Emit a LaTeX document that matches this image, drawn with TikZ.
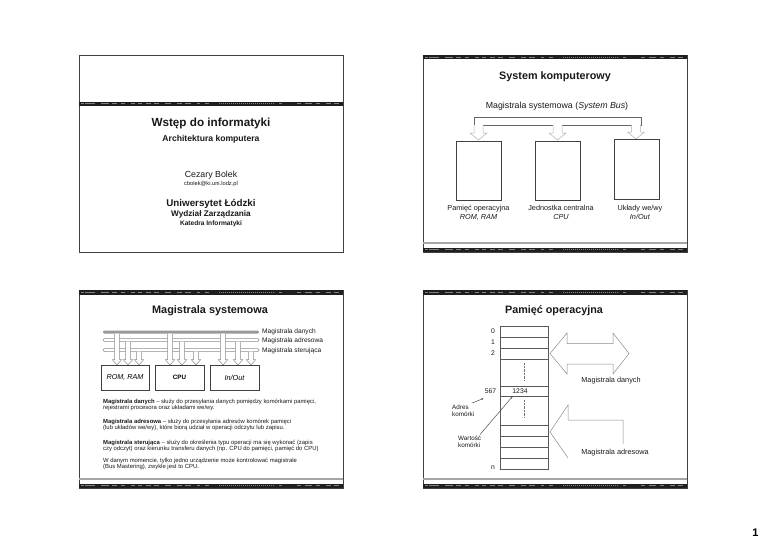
\documentclass[tikz,border=0pt]{standalone}
\usepackage{fontspec}
\setmainfont{Liberation Sans}
\usetikzlibrary{arrows.meta}
\newcommand{\myfs}[1]{\fontsize{#1}{#1}\selectfont}
\tikzset{
  slideframe/.style={draw=black!75, line width=0.9pt, fill=white},
  hollowarrow/.style={draw=black!45, fill=white, line width=0.5pt, line join=miter},
  paleArrow/.style={draw=black!30, fill=white, line width=0.5pt},
  plainbox/.style={draw=black!75, line width=0.7pt},
  txt/.style={inner sep=0pt, text=black!90},
  memline/.style={draw=black!65, line width=0.6pt},
  busbar/.style={draw=black!45, line width=0.5pt, rounded corners=1.2pt},
  pointer/.style={draw=black!70, line width=0.5pt, -{Stealth[length=2.2pt,width=1.8pt]}},
}
% band with pale marks
\newcommand{\myband}[2]{%
  \fill[black!88] (#1,#2) rectangle ++(264,4.5);
  \foreach \a/\b in {2/5,6/16,22/30,33/38,42/46,52/56,59/63,67/72,75/80,86/92,98/103,106/112,118/121,126/130,200/203,218/222,226/233,237/241,247/252,255/260}
    \draw[black!50, line width=1pt] ({#1+\a},{#2+2.25}) -- ({#1+\b},{#2+2.25});
  \draw[black!50, line width=1.2pt, dash pattern=on 1.2pt off 0.8pt] ({#1+140},{#2+2.25}) -- ({#1+196},{#2+2.25});
}
\newcommand{\bottomband}[2]{%
  \draw[black!35, line width=1.3pt] (#1,{#2-4.5}) -- ++(264,0);
  \myband{#1}{#2}
}
% down arrow: x, y top, y tip, shaft half, head half, head length, style
\newcommand{\mydownarrow}[7]{%
  \draw[#7] ({#1-#4},#2) -- ({#1-#4},{#3-#6}) -- ({#1-#5},{#3-#6}) -- (#1,#3)
    -- ({#1+#5},{#3-#6}) -- ({#1+#4},{#3-#6}) -- ({#1+#4},#2);
}
\begin{document}
\begin{tikzpicture}[x=1pt,y=-1pt]
\useasboundingbox[fill=white] (0,0) rectangle (768,543);

% ---------- frames ----------
\draw[slideframe] (79,55) rectangle (343,252);
\draw[slideframe] (423,55) rectangle (687,252);
\draw[slideframe] (79,290) rectangle (343,488);
\draw[slideframe] (423,290) rectangle (687,488);

% ---------- bands ----------
\myband{79}{101.5}
\myband{423}{55}
\bottomband{423}{247.5}
\myband{79}{290}
\bottomband{79}{483.5}
\myband{423}{290}
\bottomband{423}{483.5}

% ---------- slide 1 ----------
\node[txt, font=\bfseries\myfs{11.7}] (s1title) at (211,123) {Wstęp do informatyki};
\node[txt, font=\bfseries\myfs{8.6}] (s1sub) at (211,139) {Architektura komputera};
\node[txt, font=\myfs{8.8}] (s1author) at (211,175) {Cezary Bolek};
\node[txt, font=\myfs{5.7}] (s1mail) at (211,184.5) {cbolek@ki.uni.lodz.pl};
\node[txt, font=\bfseries\myfs{9.8}] (s1uni) at (211,204) {Uniwersytet Łódzki};
\node[txt, font=\bfseries\myfs{8.2}] (s1dep) at (211,214) {Wydział Zarządzania};
\node[txt, font=\bfseries\myfs{6.6}] (s1kat) at (211,224) {Katedra Informatyki};

% ---------- slide 2 ----------
\node[txt, font=\bfseries\myfs{10.8}] (s2title) at (555,77) {System komputerowy};
\node[txt, font=\myfs{8.8}] (s2bus) at (557,106) {Magistrala systemowa (\textit{System Bus})};
\draw[draw=black!60, line width=0.6pt] (474,117) rectangle (641,125);
\mydownarrow{478.5}{125}{140}{4.5}{8.5}{7}{paleArrow}
\mydownarrow{557.5}{125}{140}{4.5}{8.5}{7}{paleArrow}
\mydownarrow{636}{125}{139}{4.5}{8.5}{7}{paleArrow}
\node[plainbox, minimum width=45pt, minimum height=59pt, inner sep=0pt] (mem) at (478.5,170.5) {};
\node[plainbox, minimum width=45pt, minimum height=59pt, inner sep=0pt] (cpu) at (557.5,170.5) {};
\node[plainbox, minimum width=45pt, minimum height=60pt, inner sep=0pt] (io) at (636.5,169.5) {};
\node[txt, font=\myfs{7.3}, align=center] (memlab) at (478.5,212.5) {Pamięć operacyjna\\[1.6pt]\textit{ROM, RAM}};
\node[txt, font=\myfs{7.3}, align=center] (cpulab) at (561,212.5) {Jednostka centralna\\[1.6pt]\textit{CPU}};
\node[txt, font=\myfs{7.3}, align=center] (iolab) at (640,212) {Układy we/wy\\[1.6pt]\textit{In/Out}};

% ---------- slide 3 ----------
\node[txt, font=\bfseries\myfs{10.9}] (s3title) at (210,311) {Magistrala systemowa};
\fill[black!40, rounded corners=1.2pt] (103,330.5) rectangle (259,333.5);
\draw[busbar] (103,338.5) rectangle (259,341.5);
\draw[busbar] (103,348.5) rectangle (259,351.5);
\node[txt, font=\myfs{6.6}, anchor=west] (ldata) at (262,332) {Magistrala danych};
\node[txt, font=\myfs{6.6}, anchor=west] (laddr) at (262,340.5) {Magistrala adresowa};
\node[txt, font=\myfs{6.6}, anchor=west] (lctrl) at (262,350.5) {Magistrala sterująca};
\foreach \x/\y in {117/333.5,128/341.5,139/351.5,170/333.5,182/341.5,196/351.5,223/333.5,238/341.5,251/351.5}
  \mydownarrow{\x}{\y}{365}{2.5}{4.8}{5.5}{hollowarrow};
\node[plainbox, minimum width=48pt, minimum height=25pt, inner sep=0pt, font=\itshape\myfs{7.2}] (rom) at (125,377.5) {ROM, RAM};
\node[plainbox, minimum width=49pt, minimum height=25pt, inner sep=0pt, font=\bfseries\myfs{6.3}] (cpu3) at (179.5,377.5) {CPU};
\node[plainbox, minimum width=49pt, minimum height=25pt, inner sep=0pt, font=\itshape\myfs{7.3}] (io3) at (234.5,377.5) {In/Out};
\node[txt, font=\myfs{5.9}, anchor=north west, align=left] (p1) at (103,398.5)
  {\textbf{Magistrala danych} – służy do przesyłania danych pomiędzy komórkami pamięci,\\[0.9pt]rejestrami procesora oraz układami we/wy.};
\node[txt, font=\myfs{5.9}, anchor=north west, align=left] (p2) at (103,418.5)
  {\textbf{Magistrala adresowa} – służy do przesyłania adresów komórek pamięci\\[0.9pt](lub układów we/wy), które biorą udział w operacji odczytu lub zapisu.};
\node[txt, font=\myfs{5.9}, anchor=north west, align=left] (p3) at (103,439.5)
  {\textbf{Magistrala sterująca} – służy do określenia typu operacji ma się wykonać (zapis\\[0.9pt]czy odczyt) oraz kierunku transferu danych (np. CPU do pamięci, pamięć do CPU)};
\node[txt, font=\myfs{5.9}, anchor=north west, align=left] (p4) at (103,457.5)
  {W danym momencie, tylko jedno urządzenie może kontrolować magistrale\\[0.9pt](Bus Mastering), zwykle jest to CPU.};

% ---------- slide 4 ----------
\node[txt, font=\bfseries\myfs{10.8}] (s4title) at (554,311) {Pamięć operacyjna};
\draw[memline] (500,326) rectangle (548,469);
\foreach \y in {337,348,359,386,396.5,425,436.5,447.5,458}
  \draw[memline] (500,\y) -- (548,\y);
\draw[black!55, line width=0.6pt, dash pattern=on 0.7pt off 0.7pt] (524,363) -- (524,380);
\draw[black!55, line width=0.6pt, dash pattern=on 0.7pt off 0.7pt] (524,400) -- (524,417);
\node[txt, font=\myfs{6.8}] (a0) at (493,331.5) {0};
\node[txt, font=\myfs{6.8}] (a1) at (493,342.5) {1};
\node[txt, font=\myfs{6.8}] (a2) at (493,353.5) {2};
\node[txt, font=\myfs{6.8}] (a567) at (490.5,391) {567};
\node[txt, font=\myfs{6.8}] (v1234) at (520,391) {1234};
\node[txt, font=\myfs{6.8}] (an) at (493,468) {n};
\node[txt, font=\myfs{6.3}, align=left, anchor=north west] (adres) at (452,404.5) {Adres\\[0.8pt]komórki};
\node[txt, font=\myfs{6.3}, align=left, anchor=north west] (wart) at (458,436) {Wartość\\[0.8pt]komórki};
\coordinate (adresend) at (472,403);
\coordinate (wartend) at (480,434.5);
\coordinate (adrestip) at (483.5,398.5);
\coordinate (warttip) at (512.5,396.5);
\draw[pointer] (adresend) -- (adrestip);
\draw[pointer] (wartend) -- (warttip);
% data bus double arrow
\draw[hollowarrow] (550,353.5) -- (567,333) -- (567,343.5) -- (613,343.5) -- (613,333) -- (629,353.5)
  -- (613,374) -- (613,364) -- (567,364) -- (567,374) -- cycle;
\node[txt, font=\myfs{7.3}] (ldata4) at (611,381) {Magistrala danych};
% address bus arrow
\draw[hollowarrow, fill=none] (623,444) -- (623,420) -- (568,420) -- (568,405) -- (550,432) -- (568,458);
\node[txt, font=\myfs{7.3}] (laddr4) at (615,453) {Magistrala adresowa};

% page number
\node[txt, font=\bfseries\myfs{11}, text=black] (pagenum) at (755.5,533) {1};
\end{tikzpicture}
\end{document}
